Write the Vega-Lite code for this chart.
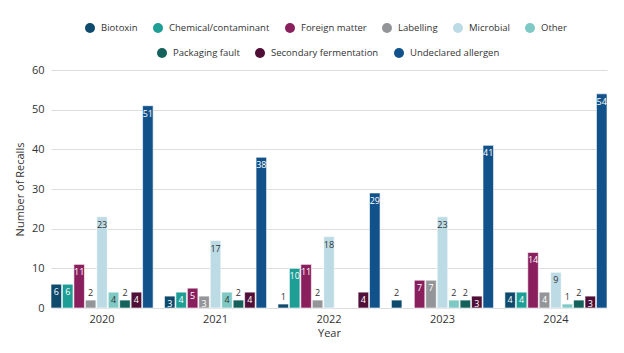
{
  "$schema": "https://vega.github.io/schema/vega-lite/v6.json",
  "width": 556,
  "height": 238,
  "autosize": "none",
  "padding": {"left": 51, "top": 70, "right": 17, "bottom": 45},
  "background": "white",
  "data": {"values": [
    {"Year": "2020", "Reason": "Biotoxin", "Recalls": 6},
    {"Year": "2020", "Reason": "Chemical/contaminant", "Recalls": 6},
    {"Year": "2020", "Reason": "Foreign matter", "Recalls": 11},
    {"Year": "2020", "Reason": "Labelling", "Recalls": 2},
    {"Year": "2020", "Reason": "Microbial", "Recalls": 23},
    {"Year": "2020", "Reason": "Other", "Recalls": 4},
    {"Year": "2020", "Reason": "Packaging fault", "Recalls": 2},
    {"Year": "2020", "Reason": "Secondary fermentation", "Recalls": 4},
    {"Year": "2020", "Reason": "Undeclared allergen", "Recalls": 51},
    {"Year": "2021", "Reason": "Biotoxin", "Recalls": 3},
    {"Year": "2021", "Reason": "Chemical/contaminant", "Recalls": 4},
    {"Year": "2021", "Reason": "Foreign matter", "Recalls": 5},
    {"Year": "2021", "Reason": "Labelling", "Recalls": 3},
    {"Year": "2021", "Reason": "Microbial", "Recalls": 17},
    {"Year": "2021", "Reason": "Other", "Recalls": 4},
    {"Year": "2021", "Reason": "Packaging fault", "Recalls": 2},
    {"Year": "2021", "Reason": "Secondary fermentation", "Recalls": 4},
    {"Year": "2021", "Reason": "Undeclared allergen", "Recalls": 38},
    {"Year": "2022", "Reason": "Biotoxin", "Recalls": 1},
    {"Year": "2022", "Reason": "Chemical/contaminant", "Recalls": 10},
    {"Year": "2022", "Reason": "Foreign matter", "Recalls": 11},
    {"Year": "2022", "Reason": "Labelling", "Recalls": 2},
    {"Year": "2022", "Reason": "Microbial", "Recalls": 18},
    {"Year": "2022", "Reason": "Secondary fermentation", "Recalls": 4},
    {"Year": "2022", "Reason": "Undeclared allergen", "Recalls": 29},
    {"Year": "2023", "Reason": "Biotoxin", "Recalls": 2},
    {"Year": "2023", "Reason": "Foreign matter", "Recalls": 7},
    {"Year": "2023", "Reason": "Labelling", "Recalls": 7},
    {"Year": "2023", "Reason": "Microbial", "Recalls": 23},
    {"Year": "2023", "Reason": "Other", "Recalls": 2},
    {"Year": "2023", "Reason": "Packaging fault", "Recalls": 2},
    {"Year": "2023", "Reason": "Secondary fermentation", "Recalls": 3},
    {"Year": "2023", "Reason": "Undeclared allergen", "Recalls": 41},
    {"Year": "2024", "Reason": "Biotoxin", "Recalls": 4},
    {"Year": "2024", "Reason": "Chemical/contaminant", "Recalls": 4},
    {"Year": "2024", "Reason": "Foreign matter", "Recalls": 14},
    {"Year": "2024", "Reason": "Labelling", "Recalls": 4},
    {"Year": "2024", "Reason": "Microbial", "Recalls": 9},
    {"Year": "2024", "Reason": "Other", "Recalls": 1},
    {"Year": "2024", "Reason": "Packaging fault", "Recalls": 2},
    {"Year": "2024", "Reason": "Secondary fermentation", "Recalls": 3},
    {"Year": "2024", "Reason": "Undeclared allergen", "Recalls": 54}
  ]},
  "encoding": {
    "x": {"field": "Year", "type": "nominal", "title": "Year",
      "scale": {"paddingInner": 0.1, "paddingOuter": 0},
      "axis": {"labelAngle": 0, "domain": false, "ticks": false, "labelPadding": 5, "titlePadding": 3}},
    "xOffset": {"field": "Reason", "type": "nominal",
      "scale": {"domain": ["Biotoxin", "Chemical/contaminant", "Foreign matter", "Labelling", "Microbial", "Other", "Packaging fault", "Secondary fermentation", "Undeclared allergen"], "paddingInner": 0.08, "paddingOuter": 0}},
    "y": {"field": "Recalls", "type": "quantitative", "title": "Number of Recalls",
      "scale": {"domain": [0, 60]},
      "axis": {"values": [0, 10, 20, 30, 40, 50, 60], "domain": false, "ticks": false, "labelPadding": 7, "titlePadding": 6}}
  },
  "layer": [
    {
      "mark": {"type": "bar", "stroke": "white", "strokeWidth": 0.6},
      "encoding": {
        "color": {"field": "Reason", "type": "nominal", "title": null,
          "scale": {"domain": ["Biotoxin", "Chemical/contaminant", "Foreign matter", "Labelling", "Microbial", "Other", "Packaging fault", "Secondary fermentation", "Undeclared allergen"],
            "range": ["#0d4a6b", "#1f9e96", "#8a1f5e", "#939598", "#bcdbe5", "#7fc9c5", "#14625b", "#4f0f36", "#12528b"]},
          "legend": {"values": ["Biotoxin", "Chemical/contaminant", "Foreign matter", "Labelling", "Microbial", "Other"], "orient": "none", "legendX": 34, "legendY": -47, "direction": "horizontal"}}
      }
    },
    {
      "transform": [{"filter": "datum.Recalls >= 3"}],
      "mark": {"type": "text", "baseline": "top", "dy": 4, "fontSize": 9, "font": "Open Sans"},
      "encoding": {
        "text": {"field": "Recalls", "type": "quantitative"},
        "fill": {"condition": {"test": "datum.Reason === 'Microbial' || datum.Reason === 'Other'", "value": "#333333"}, "value": "white"}
      }
    },
    {
      "transform": [{"filter": "datum.Recalls < 3"}],
      "mark": {"type": "text", "baseline": "bottom", "dy": -2, "fontSize": 9, "font": "Open Sans", "fill": "#333333"},
      "encoding": {
        "text": {"field": "Recalls", "type": "quantitative"}
      }
    },
    {
      "transform": [{"filter": "datum.Reason === 'Packaging fault' || datum.Reason === 'Secondary fermentation' || datum.Reason === 'Undeclared allergen'"}],
      "mark": {"type": "circle", "opacity": 0},
      "encoding": {
        "color": {"field": "Reason", "type": "nominal", "title": null,
          "scale": {"domain": ["Packaging fault", "Secondary fermentation", "Undeclared allergen"], "range": ["#14625b", "#4f0f36", "#12528b"]},
          "legend": {"orient": "none", "legendX": 106, "legendY": -22, "direction": "horizontal", "symbolOpacity": 1}}
      }
    }
  ],
  "resolve": {"scale": {"color": "independent"}, "legend": {"color": "independent"}},
  "config": {
    "font": "Open Sans",
    "view": {"stroke": null},
    "axis": {"labelFont": "Open Sans", "titleFont": "Open Sans", "labelFontSize": 11, "titleFontSize": 11, "titleFontWeight": "normal", "labelColor": "#333333", "titleColor": "#333333", "gridColor": "#dddddd"},
    "legend": {"labelFont": "Open Sans", "labelFontSize": 9.5, "labelColor": "#333333", "symbolType": "circle", "symbolSize": 100, "symbolStrokeWidth": 0, "columnPadding": 15, "labelOffset": 6}
  }
}
